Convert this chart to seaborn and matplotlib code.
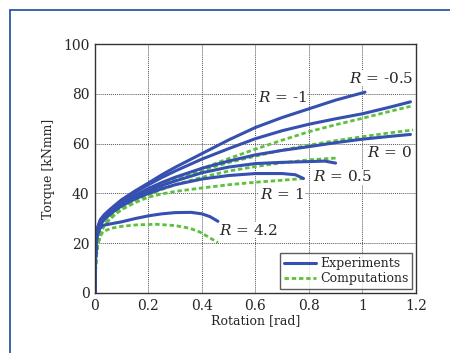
import numpy as np
import pandas as pd
import matplotlib
matplotlib.use("Agg")
import matplotlib.pyplot as plt
from matplotlib.patches import Rectangle
import seaborn as sns

# experiments (blue, solid)
exp_m1_x = [0, 0.002, 0.005, 0.01, 0.02, 0.035, 0.05, 0.075, 0.1, 0.15, 0.2, 0.25, 0.3, 0.4, 0.5, 0.6, 0.7, 0.8, 0.9, 1.01]
exp_m1_y = [0, 14, 22, 26.5, 29.5, 31.5, 33, 35.3, 37.5, 41, 44.2, 47.5, 50.5, 56, 61.5, 66.5, 70.5, 74, 77.5, 80.7]
exp_m05_x = [0, 0.002, 0.005, 0.01, 0.02, 0.035, 0.05, 0.075, 0.1, 0.15, 0.2, 0.25, 0.3, 0.4, 0.5, 0.6, 0.7, 0.8, 0.9, 1.0, 1.1, 1.18]
exp_m05_y = [0, 14, 22, 26, 29, 31, 32.5, 35, 37, 40.5, 43.5, 46.4, 49, 53.8, 58, 62, 65.2, 67.8, 70, 72, 74.6, 76.8]
exp_0_x = [0, 0.002, 0.005, 0.01, 0.02, 0.035, 0.05, 0.075, 0.1, 0.15, 0.2, 0.25, 0.3, 0.4, 0.5, 0.6, 0.7, 0.8, 0.9, 1.0, 1.1, 1.18]
exp_0_y = [0, 14, 21.5, 25.5, 28.5, 30.5, 32, 34.2, 36, 39.3, 42, 44.4, 46.5, 50.1, 53, 55.5, 57.3, 58.8, 60.4, 61.8, 62.9, 63.7]
exp_05_x = [0, 0.002, 0.005, 0.01, 0.02, 0.035, 0.05, 0.075, 0.1, 0.15, 0.2, 0.25, 0.3, 0.4, 0.5, 0.6, 0.7, 0.8, 0.86, 0.9]
exp_05_y = [0, 14, 21.5, 25.5, 28, 30, 31.5, 33.7, 35.5, 38.5, 41, 43.2, 45, 48.3, 50.6, 52, 52.5, 52.8, 53, 52.2]
exp_1_x = [0, 0.002, 0.005, 0.01, 0.02, 0.035, 0.05, 0.075, 0.1, 0.15, 0.2, 0.25, 0.3, 0.4, 0.5, 0.6, 0.7, 0.75, 0.78]
exp_1_y = [0, 14, 21, 25, 27.5, 29.5, 31, 33.2, 35, 37.8, 40, 41.9, 43.5, 45.8, 47.2, 48, 48, 47.5, 46]
exp_42_x = [0, 0.002, 0.005, 0.01, 0.02, 0.03, 0.06, 0.1, 0.15, 0.2, 0.25, 0.3, 0.36, 0.4, 0.43, 0.46]
exp_42_y = [0, 13, 20, 23.5, 26.2, 27.2, 27.8, 28.6, 29.9, 31, 31.8, 32.3, 32.4, 31.8, 30.7, 28.8]

# computations (green, dashed)
com_a_x = [0, 0.002, 0.005, 0.01, 0.02, 0.035, 0.05, 0.075, 0.1, 0.15, 0.2, 0.25, 0.3, 0.4, 0.5, 0.6, 0.7, 0.8, 0.9, 1.0, 1.1, 1.18]
com_a_y = [0, 9, 15, 19, 24, 27.5, 29.5, 32.3, 34.5, 37.8, 40.5, 43.1, 45.5, 50, 54, 57.8, 61.4, 64.8, 67.6, 70.2, 72.9, 75]
com_b_x = [0, 0.002, 0.005, 0.01, 0.02, 0.035, 0.05, 0.075, 0.1, 0.15, 0.2, 0.25, 0.3, 0.4, 0.5, 0.6, 0.7, 0.8, 0.9, 1.0, 1.1, 1.19]
com_b_y = [0, 9, 15, 19, 24, 27.5, 29.5, 32.3, 34.5, 37.8, 40.5, 43.1, 45.4, 49.3, 52.4, 55, 57.4, 59.4, 61.2, 62.8, 64.3, 65.5]
com_c_x = [0, 0.002, 0.005, 0.01, 0.02, 0.035, 0.05, 0.075, 0.1, 0.15, 0.2, 0.25, 0.3, 0.4, 0.5, 0.6, 0.7, 0.8, 0.9]
com_c_y = [0, 9, 15, 19, 24, 27.3, 29, 31.8, 34, 37, 39.5, 41.6, 43.5, 46.5, 49, 50.8, 52.3, 53.5, 54.2]
com_d_x = [0, 0.002, 0.005, 0.01, 0.02, 0.035, 0.05, 0.075, 0.1, 0.15, 0.2, 0.25, 0.3, 0.4, 0.5, 0.6, 0.7, 0.78]
com_d_y = [0, 9, 15, 19, 24, 27.3, 29, 31.5, 33.5, 36.3, 38.5, 39.8, 40.8, 42.2, 43.5, 44.5, 45.3, 46]
com_42_x = [0, 0.002, 0.005, 0.01, 0.02, 0.03, 0.06, 0.1, 0.16, 0.23, 0.3, 0.355, 0.39, 0.42, 0.44, 0.46]
com_42_y = [0, 8, 14, 19, 22.8, 24.6, 26, 26.8, 27.4, 27.6, 27.1, 26, 24.6, 22.8, 21.5, 20.2]

labels = ["$R$ = -0.5", "$R$ = -1", "$R$ = 0", "$R$ = 0.5", "$R$ = 1", "$R$ = 4.2"]
label_x = [1.07, 0.70, 1.10, 0.925, 0.70, 0.575]
label_y = [86.3, 78.7, 56.3, 46.7, 39.6, 25.3]

blue = "#3550b0"
green = "#5cc13c"

sns.set_style("white")
plt.rcParams["font.family"] = ["DejaVu Serif"]
plt.rcParams["mathtext.fontset"] = "dejavuserif"

fig = plt.figure(figsize=(4.5, 3.53), dpi=100)
ax = fig.add_axes([0.211, 0.170, 0.713, 0.705])

exps = [(exp_m1_x, exp_m1_y), (exp_m05_x, exp_m05_y), (exp_0_x, exp_0_y),
        (exp_05_x, exp_05_y), (exp_1_x, exp_1_y), (exp_42_x, exp_42_y)]
coms = [(com_a_x, com_a_y), (com_b_x, com_b_y), (com_c_x, com_c_y),
        (com_d_x, com_d_y), (com_42_x, com_42_y)]

for i, (x, y) in enumerate(coms):
    sns.lineplot(x=x, y=y, ax=ax, color=green, lw=2.0, sort=False,
                 label="Computations" if i == 0 else None)
    ax.lines[-1].set_dashes((1.6, 1.0))
for i, (x, y) in enumerate(exps):
    sns.lineplot(x=x, y=y, ax=ax, color=blue, lw=2.2, sort=False,
                 label="Experiments" if i == 0 else None)

for t, x, y in zip(labels, label_x, label_y):
    ax.text(x, y, t, ha="center", va="center", fontsize=11,
            bbox=dict(fc="white", ec="none", pad=0.5))

ax.set_xlim(0, 1.2)
ax.set_ylim(0, 100)
ax.set_xticks([0, 0.2, 0.4, 0.6, 0.8, 1.0, 1.2])
ax.set_xticklabels(["0", "0.2", "0.4", "0.6", "0.8", "1", "1.2"])
ax.set_yticks([0, 20, 40, 60, 80, 100])
ax.tick_params(labelsize=10, length=0, pad=4)
ax.grid(True, ls=(0, (1, 1)), color="#555555", lw=0.7)
for s in ax.spines.values():
    s.set_color("#333333")
    s.set_linewidth(1.0)
ax.set_xlabel("Rotation [rad]", fontsize=9, labelpad=1)
ax.set_ylabel("Torque [kNmm]", fontsize=9, labelpad=6)

h, l = ax.get_legend_handles_labels()
order = [l.index("Experiments"), l.index("Computations")]
leg = ax.legend([h[i] for i in order], [l[i] for i in order], loc="lower right",
                fontsize=9, frameon=True, fancybox=False, handlelength=2.6,
                borderaxespad=0.3, borderpad=0.3, labelspacing=0.2, handletextpad=0.3)
leg.get_frame().set_edgecolor("#333333")
leg.get_frame().set_linewidth(1.0)

fig.patches.append(Rectangle((10 / 450, -0.1), 1.2, 1.1 - 10 / 353,
                             transform=fig.transFigure, fill=False,
                             ec="#2c5a9e", lw=1.3, clip_on=False))

fig.savefig("out.png", dpi=100)
